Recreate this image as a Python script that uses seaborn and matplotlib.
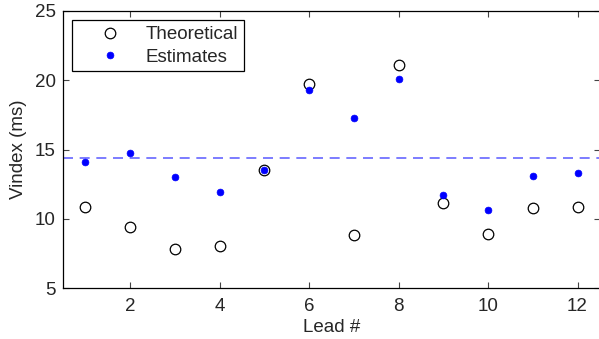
import matplotlib
matplotlib.use("Agg")
import matplotlib.pyplot as plt
import seaborn as sns
import numpy as np

lead = [1, 2, 3, 4, 5, 6, 7, 8, 9, 10, 11, 12]
theoretical = [10.87, 9.38, 7.84, 8.05, 13.52, 19.7, 8.83, 21.1, 11.11, 8.9, 10.8, 10.87]
estimates = [14.07, 14.77, 12.99, 11.95, 13.5, 19.3, 17.3, 20.09, 11.71, 10.61, 13.11, 13.32]
mean_estimate = 14.39
xticks = [2, 4, 6, 8, 10, 12]
yticks = [5, 10, 15, 20, 25]

sns.set_style("ticks")
plt.rcParams["font.family"] = ["Liberation Sans", "DejaVu Sans"]
fs = 13.5
plt.rcParams["font.size"] = fs

fig = plt.figure(figsize=(5.99, 3.39), dpi=100)
ax = fig.add_axes([0.105, 0.150, 0.8965, 0.8176])

sns.lineplot(x=lead, y=theoretical, marker="o", linestyle="none", mfc="none",
             mec="black", ms=7.6, mew=0.9, label="Theoretical", ax=ax)
sns.lineplot(x=lead, y=estimates, marker="o", linestyle="none", mfc="blue",
             mec="blue", ms=4.9, mew=0.5, color="blue", label="Estimates", ax=ax)
ax.axhline(mean_estimate, color=(0.4, 0.4, 1.0), lw=1.2, dashes=(6, 4), zorder=1)

ax.set_xlim(0.5, 12.5)
ax.set_ylim(5, 25)
ax.set_xticks(xticks)
ax.set_yticks(yticks)
ax.set_xlabel("Lead #", fontsize=fs, labelpad=3)
ax.set_ylabel("Vindex (ms)", fontsize=fs, labelpad=6)
ax.tick_params(direction="in", top=True, right=True, length=4, width=0.8,
               color="#444444", labelsize=fs)
ax.tick_params(axis="x", pad=7)
ax.tick_params(axis="y", pad=5)
for s in ax.spines.values():
    s.set_visible(True)
    s.set_color("black")
    s.set_linewidth(0.9)

leg = ax.legend(loc="upper left", frameon=True, fancybox=False, edgecolor="black",
                framealpha=1, fontsize=fs, borderpad=0.3, handletextpad=0.15,
                handlelength=3.45, labelspacing=0.3, borderaxespad=0.5)
leg.get_frame().set_linewidth(0.9)

fig.savefig("out.png", dpi=100)
